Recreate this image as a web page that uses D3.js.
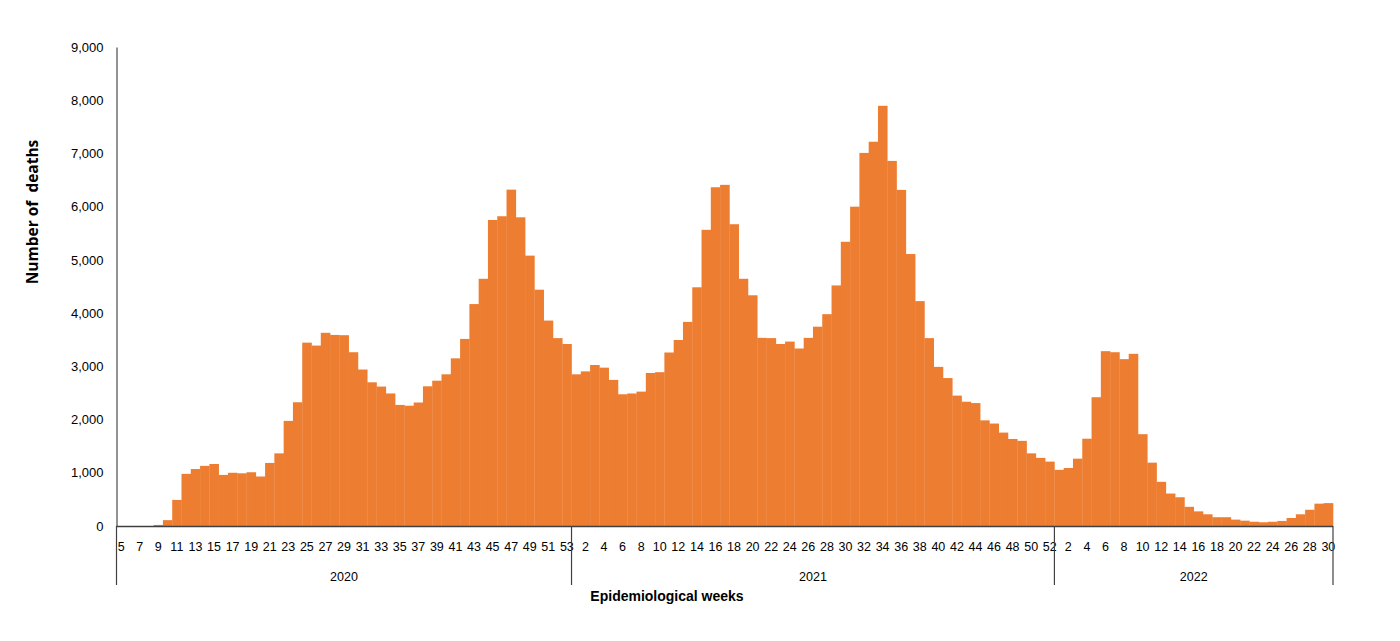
<!DOCTYPE html>
<html>
<head>
<meta charset="utf-8">
<script src="https://cdn.jsdelivr.net/npm/d3@7"></script>
<style>
  body { margin: 0; background: #fff; }
  svg text { font-family: "Liberation Sans Narrow", "Arial Narrow", "Liberation Sans", sans-serif; fill: #000; }
</style>
</head>
<body>
<div id="chart"></div>
<script>
// weekly deaths
var years = ["2020", "2021", "2022"];
var firstWeek = [5, 1, 1];

var deaths2020 = [0, 0, 0, 0, 20, 110, 490, 980, 1070, 1130, 1165, 960, 1000, 990, 1010, 930,
  1185, 1365, 1975, 2325, 3445, 3390, 3630, 3590, 3585, 3265, 2940, 2700, 2620, 2490,
  2275, 2260, 2320, 2625, 2730, 2850, 3150, 3515, 4170, 4645, 5750, 5820, 6320, 5800,
  5080, 4440, 3860, 3530, 3420];
var deaths2021 = [2850, 2905, 3025, 2975, 2745, 2475, 2490, 2525, 2875, 2890, 3260, 3495,
  3835, 4485, 5565, 6365, 6410, 5670, 4645, 4335, 3535, 3530, 3420, 3465, 3335, 3535,
  3745, 3980, 4520, 5340, 6000, 7010, 7220, 7895, 6860, 6315, 5110, 4225, 3530, 2990,
  2780, 2450, 2335, 2310, 1985, 1925, 1755, 1635, 1600, 1365, 1280, 1210];
var deaths2022 = [1055, 1090, 1265, 1640, 2420, 3285, 3265, 3135, 3235, 1725, 1190, 830,
  610, 540, 360, 275, 220, 165, 165, 120, 100, 80, 70, 80, 95, 150, 220, 305, 420, 430];

var yTicks = [0, 1000, 2000, 3000, 4000, 5000, 6000, 7000, 8000, 9000];

var series = [deaths2020, deaths2021, deaths2022];

// flatten into one category list
var data = [];
series.forEach(function(vals, k) {
  for (var i = 0; i < vals.length; i++) {
    data.push({ year: years[k], week: firstWeek[k] + i, value: vals[i], idx: data.length });
  }
});

var width = 1400, height = 641;
var plot = { left: 116.5, right: 1333, top: 47, bottom: 526 };

var svg = d3.select("#chart").append("svg")
  .attr("width", width)
  .attr("height", height);

var x = d3.scaleBand()
  .domain(data.map(function(d) { return d.idx; }))
  .range([plot.left, plot.right])
  .padding(0);

var y = d3.scaleLinear()
  .domain([0, 9000])
  .range([plot.bottom, plot.top]);

// bars
svg.append("g").selectAll("rect")
  .data(data)
  .enter().append("rect")
  .attr("x", function(d) { return x(d.idx); })
  .attr("width", x.bandwidth() + 0.3)
  .attr("y", function(d) { return y(d.value); })
  .attr("height", function(d) { return y(0) - y(d.value); })
  .attr("fill", "#ED7D31");

// y axis
var yAxis = d3.axisLeft(y)
  .tickValues(yTicks)
  .tickSize(0)
  .tickPadding(13)
  .tickFormat(d3.format(","));

var gy = svg.append("g")
  .attr("transform", "translate(" + plot.left + ",0)")
  .call(yAxis);
gy.select(".domain").attr("stroke", "#595959").attr("stroke-width", 1.3);
gy.selectAll("text").style("font-size", "13px");

// x axis line
svg.append("line")
  .attr("x1", plot.left).attr("x2", plot.right)
  .attr("y1", plot.bottom + 0.5).attr("y2", plot.bottom + 0.5)
  .attr("stroke", "#404040").attr("stroke-width", 1.3);

// week labels, every second category
svg.append("g").selectAll("text")
  .data(data.filter(function(d) { return d.idx % 2 === 0; }))
  .enter().append("text")
  .attr("x", function(d) { return x(d.idx) + x.bandwidth() / 2; })
  .attr("y", 551)
  .attr("text-anchor", "middle")
  .style("font-size", "12.5px")
  .text(function(d) { return d.week; });

// year group separators and labels
var bounds = [];
var start = 0;
series.forEach(function(vals, k) {
  bounds.push({ year: years[k], from: start, to: start + vals.length - 1 });
  start += vals.length;
});

var seps = [plot.left, plot.right];
bounds.forEach(function(b, k) { if (k > 0) seps.push(x(b.from)); });

svg.append("g").selectAll("line")
  .data(seps)
  .enter().append("line")
  .attr("x1", function(d) { return d; }).attr("x2", function(d) { return d; })
  .attr("y1", plot.bottom).attr("y2", 585)
  .attr("stroke", "#404040").attr("stroke-width", 1.2);

svg.append("g").selectAll("text")
  .data(bounds)
  .enter().append("text")
  .attr("x", function(b) { return (x(b.from) + x(b.to) + x.bandwidth()) / 2; })
  .attr("y", 581)
  .attr("text-anchor", "middle")
  .style("font-size", "12.5px")
  .text(function(b) { return b.year; });

// axis titles
svg.append("text")
  .attr("x", 667)
  .attr("y", 601)
  .attr("text-anchor", "middle")
  .style("font-size", "14px")
  .style("font-weight", "bold")
  .text("Epidemiological weeks");

svg.append("text")
  .attr("transform", "translate(38,212) rotate(-90)")
  .attr("text-anchor", "middle")
  .style("font-size", "15.5px")
  .style("font-weight", "bold")
  .style("font-family", "'Open Sans', 'DejaVu Sans', sans-serif")
  .text("Number of\u00a0 deaths");
</script>
</body>
</html>
